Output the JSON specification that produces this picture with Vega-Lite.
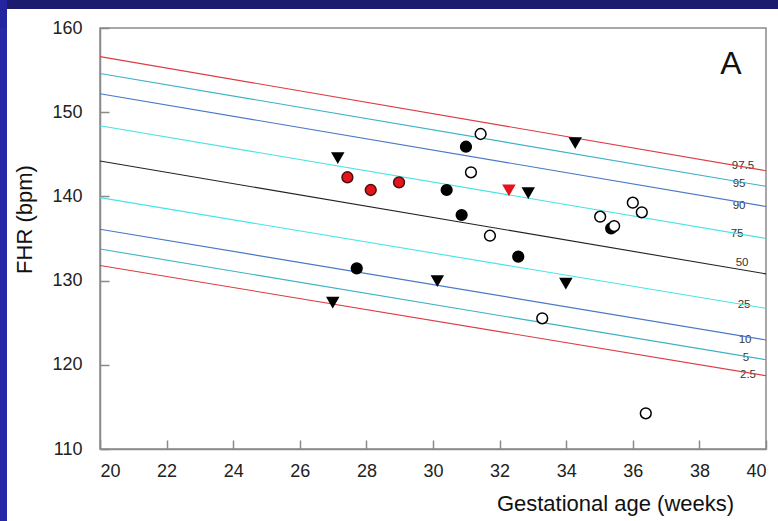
{
  "$schema": "https://vega.github.io/schema/vega-lite/v6.json",
  "padding": 0,
  "background": "white",
  "spacing": 28,
  "bounds": "flush",
  "config": {
    "font": "Liberation Sans",
    "view": {"stroke": "#8a8a8a", "strokeWidth": 1.5}
  },
  "datasets": {
    "centiles": [
      {"pct": "97.5", "ga": 20, "fhr": 156.6}, {"pct": "97.5", "ga": 40, "fhr": 143.05},
      {"pct": "95", "ga": 20, "fhr": 154.6}, {"pct": "95", "ga": 40, "fhr": 141.2},
      {"pct": "90", "ga": 20, "fhr": 152.2}, {"pct": "90", "ga": 40, "fhr": 138.8},
      {"pct": "75", "ga": 20, "fhr": 148.4}, {"pct": "75", "ga": 40, "fhr": 135.0},
      {"pct": "50", "ga": 20, "fhr": 144.2}, {"pct": "50", "ga": 40, "fhr": 130.8},
      {"pct": "25", "ga": 20, "fhr": 139.85}, {"pct": "25", "ga": 40, "fhr": 126.7},
      {"pct": "10", "ga": 20, "fhr": 136.1}, {"pct": "10", "ga": 40, "fhr": 122.95},
      {"pct": "5", "ga": 20, "fhr": 133.75}, {"pct": "5", "ga": 40, "fhr": 120.6},
      {"pct": "2.5", "ga": 20, "fhr": 131.8}, {"pct": "2.5", "ga": 40, "fhr": 118.7}
    ],
    "labels": [
      {"pct": "97.5", "ga": 39.31, "fhr": 143.65},
      {"pct": "95", "ga": 39.19, "fhr": 141.44},
      {"pct": "90", "ga": 39.19, "fhr": 138.9},
      {"pct": "75", "ga": 39.13, "fhr": 135.53},
      {"pct": "50", "ga": 39.28, "fhr": 132.05},
      {"pct": "25", "ga": 39.34, "fhr": 127.1},
      {"pct": "10", "ga": 39.37, "fhr": 122.91},
      {"pct": "5", "ga": 39.4, "fhr": 120.77},
      {"pct": "2.5", "ga": 39.46, "fhr": 118.75}
    ],
    "points": [
      {"group": "filled", "ga": 30.41, "fhr": 140.76},
      {"group": "filled", "ga": 30.99, "fhr": 145.9},
      {"group": "filled", "ga": 30.86, "fhr": 137.79},
      {"group": "filled", "ga": 27.71, "fhr": 131.46},
      {"group": "filled", "ga": 32.56, "fhr": 132.84},
      {"group": "filled", "ga": 35.35, "fhr": 136.21},
      {"group": "open", "ga": 31.43, "fhr": 147.41},
      {"group": "open", "ga": 31.14, "fhr": 142.86},
      {"group": "open", "ga": 31.71, "fhr": 135.33},
      {"group": "open", "ga": 33.28, "fhr": 125.52},
      {"group": "open", "ga": 35.02, "fhr": 137.59},
      {"group": "open", "ga": 35.44, "fhr": 136.48},
      {"group": "open", "ga": 36.0, "fhr": 139.25},
      {"group": "open", "ga": 36.27, "fhr": 138.11},
      {"group": "open", "ga": 36.39, "fhr": 114.24},
      {"group": "red", "ga": 27.43, "fhr": 142.27},
      {"group": "red", "ga": 28.13, "fhr": 140.76},
      {"group": "red", "ga": 28.98, "fhr": 141.67},
      {"group": "tri", "ga": 27.14, "fhr": 144.6},
      {"group": "tri", "ga": 32.86, "fhr": 140.44},
      {"group": "tri", "ga": 34.27, "fhr": 146.38},
      {"group": "tri", "ga": 30.13, "fhr": 129.99},
      {"group": "tri", "ga": 33.99, "fhr": 129.68},
      {"group": "tri", "ga": 26.99, "fhr": 127.42},
      {"group": "redtri", "ga": 32.28, "fhr": 140.76}
    ],
    "panel": [
      {"label": "A", "ga": 38.95, "fhr": 155.7}
    ],
    "none": []
  },
  "vconcat": [
    {
      "spacing": 0,
      "bounds": "flush",
      "hconcat": [
        {
          "width": 7,
          "height": 28,
          "view": {"fill": "#2424a0", "stroke": null},
          "data": {"name": "none"},
          "mark": {"type": "point"},
          "encoding": {}
        },
        {
          "width": 771,
          "height": 9,
          "view": {"fill": "#1c1c6e", "stroke": null},
          "data": {"name": "none"},
          "mark": {"type": "point"},
          "encoding": {}
        }
      ]
    },
    {
      "spacing": 93,
      "bounds": "flush",
      "hconcat": [
        {
          "width": 7,
          "height": 493,
          "view": {"fill": "#2828a6", "stroke": null},
          "data": {"name": "none"},
          "mark": {"type": "point"},
          "encoding": {}
        },
        {
          "width": 666,
          "height": 421,
          "layer": [
            {
              "data": {"name": "labels"},
              "mark": {"type": "text", "fontSize": 11.5, "color": "#333333", "align": "center", "baseline": "middle"},
              "encoding": {
                "x": {
                  "field": "ga", "type": "quantitative",
                  "scale": {"domain": [20, 40], "nice": false, "zero": false},
                  "axis": {
                    "values": [20, 22, 24, 26, 28, 30, 32, 34, 36, 38, 40],
                    "grid": false,
                    "tickSize": -9,
                    "tickColor": "#8a8a8a",
                    "tickWidth": 1.5,
                    "domainColor": "#8a8a8a",
                    "domainWidth": 1.5,
                    "labelPadding": 22,
                    "labelFontSize": 18,
                    "labelColor": "#222222",
                    "title": "Gestational age (weeks)",
                    "titleFontSize": 22,
                    "titleFontWeight": "normal",
                    "titleColor": "#111111",
                    "titleX": 515,
                    "titleY": 54,
                    "titleBaseline": "middle",
                    "titleAlign": "center"
                  }
                },
                "y": {
                  "field": "fhr", "type": "quantitative",
                  "scale": {"domain": [110, 160], "nice": false, "zero": false},
                  "axis": {
                    "values": [110, 120, 130, 140, 150, 160],
                    "grid": false,
                    "tickSize": -9,
                    "tickColor": "#8a8a8a",
                    "tickWidth": 1.5,
                    "domainColor": "#8a8a8a",
                    "domainWidth": 1.5,
                    "labelPadding": 27,
                    "labelFontSize": 18,
                    "labelColor": "#222222",
                    "title": "FHR (bpm)",
                    "titleFontSize": 22,
                    "titleFontWeight": "normal",
                    "titleColor": "#111111",
                    "titleAngle": -90,
                    "titleX": -76,
                    "titleY": 191,
                    "titleBaseline": "middle",
                    "titleAlign": "center"
                  }
                },
                "text": {"field": "pct", "type": "nominal"}
              }
            },
            {
              "data": {"name": "centiles"},
              "mark": {"type": "line", "strokeWidth": 1.1},
              "encoding": {
                "x": {"field": "ga", "type": "quantitative"},
                "y": {"field": "fhr", "type": "quantitative"},
                "color": {
                  "field": "pct", "type": "nominal",
                  "scale": {
                    "domain": ["97.5", "95", "90", "75", "50", "25", "10", "5", "2.5"],
                    "range": ["#dc3c44", "#3cb2c4", "#4a78c8", "#48e4e4", "#222222", "#48e4e4", "#4a78c8", "#3cb2c4", "#dc3c44"]
                  },
                  "legend": null
                }
              }
            },
            {
              "data": {"name": "points"},
              "mark": {"type": "point", "filled": true, "strokeWidth": 1.5, "opacity": 1},
              "encoding": {
                "x": {"field": "ga", "type": "quantitative"},
                "y": {"field": "fhr", "type": "quantitative"},
                "shape": {
                  "field": "group", "type": "nominal",
                  "scale": {"domain": ["filled", "open", "red", "tri", "redtri"], "range": ["circle", "circle", "circle", "triangle-down", "triangle-down"]},
                  "legend": null
                },
                "fill": {
                  "field": "group", "type": "nominal",
                  "scale": {"domain": ["filled", "open", "red", "tri", "redtri"], "range": ["#000000", "#ffffff", "#e3141b", "#000000", "#e3141b"]},
                  "legend": null
                },
                "stroke": {
                  "field": "group", "type": "nominal",
                  "scale": {"domain": ["filled", "open", "red", "tri", "redtri"], "range": ["#000000", "#000000", "#4a1010", "#000000", "#e3141b"]},
                  "legend": null
                },
                "size": {
                  "field": "group", "type": "nominal",
                  "scale": {"domain": ["filled", "open", "red", "tri", "redtri"], "range": [115, 120, 120, 90, 90]},
                  "legend": null
                }
              }
            },
            {
              "data": {"name": "panel"},
              "mark": {"type": "text", "fontSize": 32, "color": "#111111", "align": "center", "baseline": "middle"},
              "encoding": {
                "x": {"field": "ga", "type": "quantitative"},
                "y": {"field": "fhr", "type": "quantitative"},
                "text": {"field": "label", "type": "nominal"}
              }
            }
          ]
        }
      ]
    }
  ]
}
